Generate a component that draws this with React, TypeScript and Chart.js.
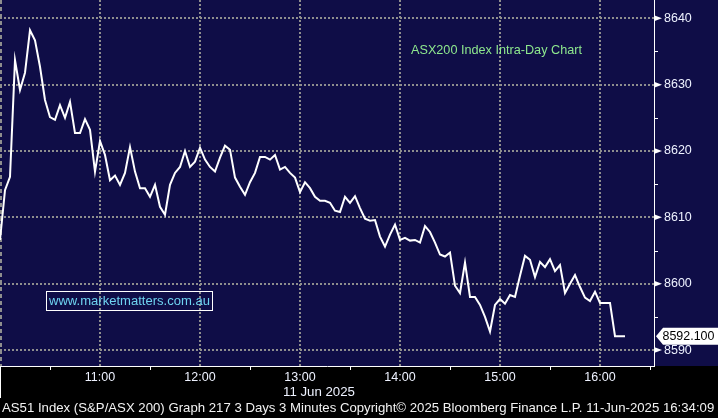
import React, { useEffect, useRef } from 'react';
import { Chart, registerables } from 'chart.js';

Chart.register(...registerables);

const W = 718;
const H = 418;

// ---- data (3-minute samples starting 10:00) ----
const intervalMinutes = 3;
const values10h = [
  8606.6, 8614.1, 8616.1, 8633.7, 8629.2, 8631.8, 8638.2, 8636.7, 8632.7, 8627.7,
  8625.1, 8624.7, 8626.9, 8625.0, 8627.4, 8622.7, 8622.7, 8624.8, 8623.2, 8616.9,
];
const values11h = [
  8621.5, 8619.4, 8615.6, 8616.3, 8614.9, 8616.7, 8620.6, 8616.9, 8614.4, 8614.4,
  8613.1, 8614.9, 8611.6, 8610.4, 8614.9, 8616.7, 8617.6, 8620.0, 8617.6, 8618.4,
];
const values12h = [
  8620.5, 8618.7, 8617.6, 8616.9, 8619.0, 8620.8, 8620.2, 8616.0, 8614.6, 8613.4,
  8615.3, 8616.7, 8619.1, 8619.1, 8618.7, 8619.4, 8617.2, 8617.6, 8616.7, 8616.0,
];
const values13h = [
  8613.8, 8615.3, 8614.4, 8613.1, 8612.5, 8612.5, 8612.2, 8611.0, 8610.8, 8613.1,
  8612.2, 8613.2, 8611.4, 8609.8, 8609.5, 8609.6, 8607.1, 8605.6, 8607.4, 8608.9,
];
const values14h = [
  8606.6, 8606.9, 8606.5, 8606.6, 8606.2, 8608.7, 8607.8, 8606.2, 8604.4, 8604.1,
  8604.7, 8599.7, 8598.6, 8603.2, 8598.0, 8598.0, 8596.8, 8595.0, 8592.8, 8596.8,
];
const values15h = [
  8597.7, 8597.0, 8598.3, 8598.0, 8601.2, 8604.2, 8603.6, 8601.0, 8603.3, 8602.5,
  8603.7, 8601.9, 8602.8, 8598.6, 8600.0, 8601.3, 8599.5, 8597.9, 8597.4, 8598.8,
];
const values16h = [8597.1, 8597.1, 8597.1, 8592.1, 8592.1, 8592.1];

const values = [...values10h, ...values11h, ...values12h, ...values13h, ...values14h, ...values15h, ...values16h];
const minutesFromOpen = values.map((_, i) => i * intervalMinutes);

const lastPrice = 8592.1;
const lastPriceLabel = '8592.100';

const hourTickMinutes = [60, 120, 180, 240, 300, 360];
const hourTickLabels = ['11:00', '12:00', '13:00', '14:00', '15:00', '16:00'];
const halfHourMinutes = [30, 90, 150, 210, 270, 330, 390];
const yTicks = [8590, 8600, 8610, 8620, 8630, 8640];
const yMinorTicks = [8595, 8605, 8615, 8625, 8635];

const dateLabel = '11 Jun 2025';
const legendText = 'ASX200 Index Intra-Day Chart';
const watermarkText = 'www.marketmatters.com.au';
const footerText =
  'AS51 Index (S&P/ASX 200) Graph 217 3 Days 3 Minutes Copyright\u00A9 2025 Bloomberg Finance L.P. 11-Jun-2025 16:34:09';

// ---- styles ----
const NAVY = '#0f0d47';
const GRID = '#8e8e8e';
const TICK_COLOR = '#eef2ff';
const FONT = "'Liberation Sans', Arial, sans-serif";

function fitSize(ctx: CanvasRenderingContext2D, text: string, target: number) {
  ctx.font = `12px ${FONT}`;
  const w = ctx.measureText(text).width;
  return (12 * target) / w;
}

const bbgPlugin = {
  id: 'bbg',
  beforeDraw(chart: any) {
    const { ctx, chartArea: a, scales } = chart;
    const x = scales.x;
    const y = scales.y;
    ctx.save();
    ctx.fillStyle = '#000';
    ctx.fillRect(0, 0, W, H);
    ctx.fillStyle = NAVY;
    ctx.fillRect(0, 0, W, a.bottom);

    ctx.strokeStyle = GRID;
    ctx.lineWidth = 2;
    ctx.setLineDash([2, 2]);
    yTicks.forEach((v) => {
      const py = Math.round(y.getPixelForValue(v));
      ctx.beginPath();
      ctx.moveTo(a.left, py);
      ctx.lineTo(a.right, py);
      ctx.stroke();
    });
    hourTickMinutes.forEach((m) => {
      const px = Math.round(x.getPixelForValue(m));
      ctx.beginPath();
      ctx.moveTo(px, 0);
      ctx.lineTo(px, a.bottom);
      ctx.stroke();
    });
    ctx.setLineDash([4, 3]);
    ctx.beginPath();
    ctx.moveTo(1, 0);
    ctx.lineTo(1, a.bottom);
    ctx.stroke();
    ctx.restore();
  },
  afterDraw(chart: any) {
    const { ctx, chartArea: a, scales } = chart;
    const x = scales.x;
    const y = scales.y;
    ctx.save();
    ctx.setLineDash([]);
    ctx.strokeStyle = '#ffffff';
    ctx.fillStyle = '#ffffff';
    ctx.lineWidth = 1;

    // axis lines
    ctx.beginPath();
    ctx.moveTo(a.right + 0.5, 0);
    ctx.lineTo(a.right + 0.5, a.bottom + 0.5);
    ctx.moveTo(0, a.bottom + 0.5);
    ctx.lineTo(a.right + 1, a.bottom + 0.5);
    ctx.moveTo(0.5, a.bottom);
    ctx.lineTo(0.5, a.bottom + 32);
    ctx.stroke();

    // half-hour tick marks
    ctx.beginPath();
    halfHourMinutes.forEach((m) => {
      const px = Math.round(x.getPixelForValue(m)) + 0.5;
      if (px > a.right) return;
      ctx.moveTo(px, a.bottom);
      ctx.lineTo(px, a.bottom + 4);
    });
    ctx.stroke();

    // y major markers (triangles) and minor ticks
    yTicks.forEach((v) => {
      const py = y.getPixelForValue(v);
      ctx.beginPath();
      ctx.moveTo(a.right, py - 3);
      ctx.lineTo(a.right + 8, py);
      ctx.lineTo(a.right, py + 3);
      ctx.closePath();
      ctx.fill();
    });
    ctx.beginPath();
    yMinorTicks.forEach((v) => {
      const py = Math.round(y.getPixelForValue(v)) + 0.5;
      ctx.moveTo(a.right, py);
      ctx.lineTo(a.right + 4, py);
    });
    ctx.stroke();

    // last price label
    const lp = y.getPixelForValue(lastPrice);
    ctx.beginPath();
    ctx.moveTo(a.right + 2, lp);
    ctx.lineTo(a.right + 9, lp - 8.5);
    ctx.lineTo(W, lp - 8.5);
    ctx.lineTo(W, lp + 8.5);
    ctx.lineTo(a.right + 9, lp + 8.5);
    ctx.closePath();
    ctx.fillStyle = '#ffffff';
    ctx.fill();
    ctx.fillStyle = '#000000';
    ctx.font = `${fitSize(ctx, lastPriceLabel, 52)}px ${FONT}`;
    ctx.textAlign = 'left';
    ctx.textBaseline = 'middle';
    ctx.fillText(lastPriceLabel, a.right + 8.5, lp + 0.5);

    // watermark box
    ctx.strokeStyle = '#ffffff';
    ctx.strokeRect(46.5, 291.5, 166, 19);
    ctx.fillStyle = '#6fd3f0';
    ctx.font = `${fitSize(ctx, watermarkText, 161)}px ${FONT}`;
    ctx.textAlign = 'left';
    ctx.fillText(watermarkText, 49, 301.5);

    // legend
    ctx.fillStyle = '#8ee88e';
    ctx.font = `${fitSize(ctx, legendText, 171)}px ${FONT}`;
    ctx.fillText(legendText, 411, 50);

    // date label
    ctx.fillStyle = TICK_COLOR;
    ctx.font = `${fitSize(ctx, dateLabel, 72)}px ${FONT}`;
    ctx.textAlign = 'center';
    ctx.fillText(dateLabel, 319, 392);

    // footer
    ctx.fillStyle = '#f2f2f2';
    ctx.font = `${fitSize(ctx, footerText, 713)}px ${FONT}`;
    ctx.textAlign = 'left';
    ctx.fillText(footerText, 2, 408.5);
    ctx.restore();
  },
};

export default function App() {
  const ref = useRef<HTMLCanvasElement | null>(null);

  useEffect(() => {
    document.body.style.margin = '0';
    const canvas = ref.current;
    if (!canvas) return;
    const chart = new Chart(canvas, {
      type: 'line',
      data: {
        datasets: [
          {
            data: minutesFromOpen.map((m, i) => ({ x: m, y: values[i] })),
            borderColor: '#ffffff',
            borderWidth: 2,
            pointRadius: 0,
            tension: 0,
            fill: false,
          },
        ],
      },
      options: {
        animation: false,
        responsive: false,
        devicePixelRatio: 1,
        layout: { padding: 0 },
        plugins: { legend: { display: false }, tooltip: { enabled: false } },
        scales: {
          x: {
            type: 'linear',
            min: 0,
            max: 392.4,
            grid: { display: false, drawTicks: false },
            border: { display: false },
            afterBuildTicks: (s: any) => {
              s.ticks = hourTickMinutes.map((v) => ({ value: v }));
            },
            afterFit: (s: any) => {
              s.height = 52;
              s.paddingLeft = 0;
              s.paddingRight = 0;
              s.paddingTop = 0;
              s.paddingBottom = 0;
            },
            ticks: {
              autoSkip: false,
              maxRotation: 0,
              minRotation: 0,
              padding: 4,
              color: TICK_COLOR,
              font: { family: FONT, size: 12.5 },
              callback: (_v: any, i: number) => hourTickLabels[i],
            },
          },
          y: {
            type: 'linear',
            position: 'right',
            min: 8587.6,
            max: 8642.76,
            grid: { display: false, drawTicks: false },
            border: { display: false },
            afterBuildTicks: (s: any) => {
              s.ticks = yTicks.map((v) => ({ value: v }));
            },
            afterFit: (s: any) => {
              s.width = 64;
              s.paddingLeft = 0;
              s.paddingRight = 0;
              s.paddingTop = 0;
              s.paddingBottom = 0;
            },
            ticks: {
              padding: 10,
              color: TICK_COLOR,
              font: { family: FONT, size: 12.5 },
              callback: (v: any) => String(v),
            },
          },
        },
      },
      plugins: [bbgPlugin],
    } as any);
    return () => chart.destroy();
  }, []);

  return (
    <div style={{ position: 'fixed', left: 0, top: 0, width: W, height: H, background: '#000' }}>
      <canvas ref={ref} width={W} height={H} style={{ display: 'block', width: W, height: H }} />
    </div>
  );
}
